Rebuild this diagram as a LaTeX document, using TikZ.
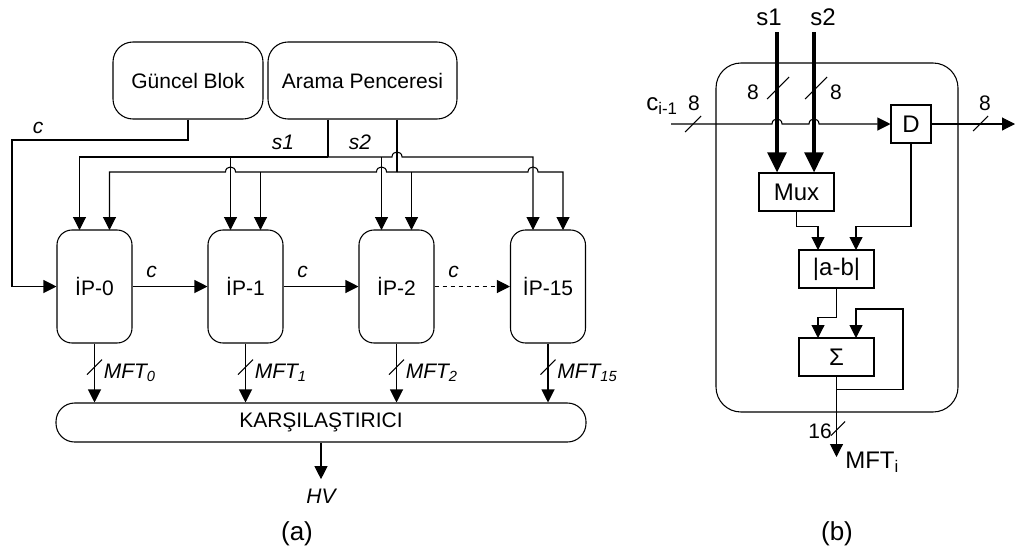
\documentclass[tikz,border=0pt]{standalone}
\usepackage{fontspec}
\setmainfont{Liberation Sans}
\usetikzlibrary{arrows.meta}
\begin{document}
\begin{tikzpicture}[x=0.75pt,y=-0.75pt,
  every node/.style={font=\fontsize{15.75}{18}\selectfont, inner sep=0pt},
  big/.style={font=\fontsize{18}{21}\selectfont},
  captxt/.style={font=\fontsize{19.5}{23}\selectfont},
  wire/.style={line width=0.8pt},
  arr/.style={wire, -{Triangle[length=9.75pt,width=9.75pt]}},
  tarr/.style={line width=2.6pt, -{Triangle[length=15pt,width=14pt]}},
  rbox/.style={draw, line width=0.8pt, rounded corners=15pt},
  ipbox/.style={rbox, rounded corners=11.25pt, minimum width=56.25pt, minimum height=84.75pt},
  sbox/.style={draw, line width=0.8pt, minimum width=56.25pt, minimum height=28.5pt, big},
  lbl/.style={font=\fontsize{15.75}{18}\selectfont\itshape},
  hopR/.style 2 args={insert path={-- (#1-5,#2) .. controls +(0,-6.7) and +(0,-6.7) .. (#1+5,#2)}},
  hopL/.style 2 args={insert path={-- (#1+5,#2) .. controls +(0,-6.7) and +(0,-6.7) .. (#1-5,#2)}},
  busmark/.pic={\draw[wire] (-#1,#1) -- (#1,-#1);}
]
\useasboundingbox (0,0) rectangle (1016,551);

% ---------------- (a) search architecture ----------------
\node[rbox, minimum width=112.5pt, minimum height=57.75pt] (gb) at (188,80.5) {Güncel Blok};
\node[rbox, minimum width=141.75pt, minimum height=57.75pt] (ap) at (362.5,80.5) {Arama Penceresi};

\node[ipbox] (ip0) at (94.5,286.5) {İP-0};
\node[ipbox] (ip1) at (245.5,286.5) {İP-1};
\node[ipbox] (ip2) at (396.5,286.5) {İP-2};
\node[ipbox] (ip3) at (548,286.5) {İP-15};

\node[rbox, rounded corners=14pt, minimum width=397.5pt, minimum height=29.25pt] (kar) at (321,422.5) {KARŞILAŞTIRICI};
\node[lbl] (hv) at (321,496) {HV};
\node[captxt] (capa) at (297,534) {(a)};

% input points of the processing elements
\coordinate (i0a) at (79.5,230);  \coordinate (i0b) at (109.5,230);
\coordinate (i1a) at (230.5,230); \coordinate (i1b) at (260.5,230);
\coordinate (i2a) at (381.5,230); \coordinate (i2b) at (411.5,230);
\coordinate (i3a) at (533,230);   \coordinate (i3b) at (563,230);
\coordinate (s1j) at (328,157);
\coordinate (s2j) at (397,172);
\coordinate (cc) at (12,140);

% current block feed
\draw[arr] (gb.south) |- (cc) |- (ip0.west);
\node[lbl, anchor=base] (cl0) at (38,133.5) {c};

% s1 bus
\draw[wire] (ap.south -| s1j) -- (s1j);
\draw[arr] (s1j) -| (i0a);
\draw[arr] (s1j) [hopR={397}{157}] -| (i3a);
\draw[arr] (i1a |- s1j) -- (i1a);
\draw[arr] (i2a |- s1j) -- (i2a);
\node[lbl] (s1l) at (283,142) {s1};

% s2 bus
\draw[wire] (ap.south -| s2j) -- (s2j);
\draw[arr] (s2j) [hopL={381.5}{172}] [hopL={230.5}{172}] -| (i0b);
\draw[arr] (s2j) [hopR={533}{172}] -| (i3b);
\draw[arr] (i1b |- s2j) -- (i1b);
\draw[arr] (i2b |- s2j) -- (i2b);
\node[lbl] (s2l) at (360,142) {s2};

% chain of c
\draw[arr] (ip0.east) -- (ip1.west);
\draw[arr] (ip1.east) -- (ip2.west);
\draw[arr, dashed] (ip2.east) -- (ip3.west);
\path (ip0.east) ++(19,-9) node[lbl, anchor=base] (cl1) {c};
\path (ip1.east) ++(19,-9) node[lbl, anchor=base] (cl2) {c};
\path (ip2.east) ++(19,-9) node[lbl, anchor=base] (cl3) {c};

% results to the comparator
\foreach \i/\s in {0/0,1/1,2/2,3/15} {
  \draw[arr] (ip\i.south) -- (ip\i.south |- kar.north);
  \path (ip\i.south) ++(0,23.5) pic {busmark=7.5};
  \path (ip\i.south) ++(9,34.5) node[lbl, anchor=base west] (mft\i) {MFT\textsubscript{\s}};
}
\draw[arr] (kar.south) -- ([yshift=7pt]hv.north);

% ---------------- (b) processing element ----------------
\node[rbox, rounded corners=18.75pt, minimum width=181.5pt, minimum height=261.75pt] (pe) at (837,237.5) {};
\node[sbox] (mux) at (796.5,192) {Mux};
\node[sbox, minimum width=30pt] (dd) at (911,124) {D};
\node[sbox] (abs) at (836.5,269) {|a-b|};
\node[sbox] (sum) at (836.5,357) {Σ};

\node[big] (s1b) at (769,17.5) {s1};
\node[big] (s2b) at (823,17.5) {s2};
\coordinate (t1) at (777,32);
\coordinate (t2) at (814,32);
\draw[tarr] (t1) -- (t1 |- mux.north);
\draw[tarr] (t2) -- (t2 |- mux.north);
\path (778,88) pic {busmark=11};
\path (816,88) pic {busmark=11};
\node (n8a) at (753,92) {8};
\node (n8b) at (836,92) {8};

\node[big, anchor=base west] (cin) at (646,110) {c\textsubscript{i-1}};
\coordinate (cst) at (671,124);
\draw[arr] (cst) [hopR={777}{124}] [hopR={814}{124}] -- (dd.west);
\path (693,124) pic {busmark=8};
\node (n8c) at (694,103) {8};

\coordinate (dout) at (1015,124);
\draw[arr] (dd.east) -- (dout);
\path (980.5,123.5) pic {busmark=7.5};
\node (n8d) at (985,103) {8};

\coordinate (a1) at (818,250); \coordinate (a2) at (856,250);
\coordinate (b1) at (818,338); \coordinate (b2) at (856,338);
\coordinate (fb) at (903,309);
\draw[arr] (mux.south) -- ++(0,15) -| (a1);
\draw[arr] (dd.south) -- ++(0,83) -| (a2);
\draw[arr] (abs.south) -- ++(0,29) -| (b1);
\draw[arr] (sum.south) ++(0,13) -| (fb) -| (b2);

\coordinate (mo) at (836.5,457);
\draw[arr] (sum.south) -- (mo);
\path (838,428.5) pic {busmark=7};
\node (n16) at (820,431) {16};
\node[big, anchor=base west] (mfti) at (845,468) {MFT\textsubscript{i}};

\node[captxt] (capb) at (837,534) {(b)};
\end{tikzpicture}
\end{document}
